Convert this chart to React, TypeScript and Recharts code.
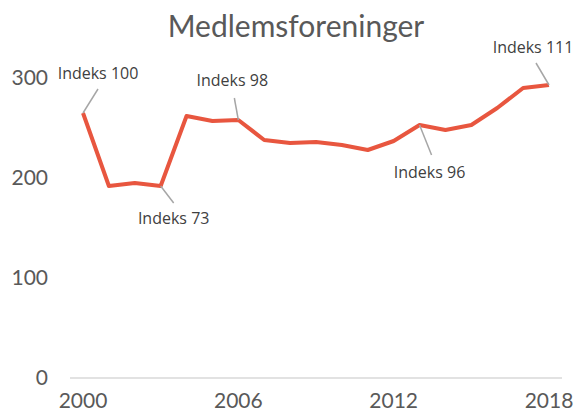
import React from 'react';
import { LineChart, Line, XAxis, YAxis, LabelList } from 'recharts';

const years = ['2000', '2001', '2002', '2003', '2004', '2005', '2006', '2007', '2008', '2009', '2010', '2011', '2012', '2013', '2014', '2015', '2016', '2017', '2018'];
const members = [265, 192, 195, 192, 262, 257, 258, 238, 235, 236, 233, 228, 237, 253, 248, 253, 270, 290, 293];
const yTicks = [0, 100, 200, 300];

// annotated points and their texts
const noteYears = ['2000', '2003', '2006', '2013', '2018'];
const noteTexts = ['Indeks 100', 'Indeks 73', 'Indeks 98', 'Indeks 96', 'Indeks 111'];
// leader end offset and label offset from the point
const noteLayout = [
  { lx: 15, ly: -24, tx: 15, ty: -40 },
  { lx: 13, ly: 17, tx: 13, ty: 32 },
  { lx: -4, ly: -22, tx: -6, ty: -40 },
  { lx: 12, ly: 30, tx: 10, ty: 47 },
  { lx: -13, ly: -22, tx: -16, ty: -38 },
];

const data = years.map((year, i) => ({ year, value: members[i] }));

const FONT = 'Lato, "Open Sans", sans-serif';
const NOTE_FONT = '"Open Sans", Lato, sans-serif';

const NoteLabel = (props: any) => {
  const { x, y, index } = props;
  const year = years[index];
  const k = noteYears.indexOf(year);
  if (k < 0) return null;
  const l = noteLayout[k];
  return (
    <g>
      <line x1={x} y1={y} x2={x + l.lx} y2={y + l.ly} stroke="#a6a6a6" strokeWidth={1.5} />
      <text x={x + l.tx} y={y + l.ty} textAnchor="middle" dominantBaseline="central" fill="#404040" fontSize={16} fontFamily={NOTE_FONT}>
        {noteTexts[k]}
      </text>
    </g>
  );
};

export default function App() {
  return (
    <div style={{ position: 'absolute', left: 0, top: 0, width: 573, height: 418, background: '#fff' }}>
      <div style={{ position: 'absolute', left: 0, top: 7, width: 592, textAlign: 'center', fontFamily: FONT, fontSize: 30, color: '#595959' }}>
        Medlemsforeninger
      </div>
      <LineChart width={573} height={418} data={data} margin={{ top: 78, right: 11, bottom: 10, left: 10 }}>
        <XAxis
          dataKey="year"
          interval={5}
          padding={{ left: 13, right: 13 }}
          tickLine={false}
          tickSize={0}
          tickMargin={15}
          height={30}
          axisLine={{ stroke: '#d9d9d9', strokeWidth: 1.5 }}
          tick={{ fill: '#595959', fontSize: 21, fontFamily: FONT }}
        />
        <YAxis
          domain={[0, 300]}
          ticks={yTicks}
          width={60}
          axisLine={false}
          tickLine={false}
          tickSize={0}
          tickMargin={22}
          tick={{ fill: '#595959', fontSize: 21, fontFamily: FONT }}
        />
        <Line
          dataKey="value"
          stroke="#e8563f"
          strokeWidth={4}
          dot={false}
          isAnimationActive={false}
          strokeLinejoin="round"
        >
          <LabelList dataKey="value" content={NoteLabel} />
        </Line>
      </LineChart>
    </div>
  );
}
